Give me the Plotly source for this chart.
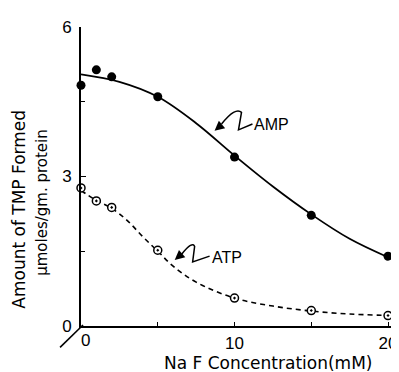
import plotly.graph_objects as go

# ---- data ----
amp_x = [0, 1, 2, 5, 10, 15, 20]
amp_y = [4.83, 5.14, 5.0, 4.6, 3.39, 2.22, 1.40]
atp_x = [0, 1, 2, 5, 10, 15, 20]
atp_y = [2.77, 2.51, 2.38, 1.52, 0.56, 0.31, 0.21]
# hand-drawn fitted curves
amp_fit_x = [0, 2.5, 5, 7.5, 10, 12.5, 15, 17.5, 20, 20.4]
amp_fit_y = [5.05, 4.9, 4.6, 4.07, 3.42, 2.8, 2.24, 1.75, 1.38, 1.33]
atp_fit_x = [0, 1, 2, 3, 4, 5, 6, 7.5, 10, 12.5, 15, 17.5, 20, 20.5]
atp_fit_y = [2.72, 2.52, 2.36, 2.12, 1.8, 1.5, 1.2, 0.88, 0.56, 0.4, 0.3, 0.24, 0.21, 0.2]
y_ticks = [0, 3, 6]
y_ticklabels = ["0", "3", "6"]
x_ticks = [5, 10, 15, 20]
x_ticklabels = ["", "10", "", "20"]

FONT = "Liberation Sans"
TFONT = "DejaVu Sans"
OFF = 8  # page body margin

# layout in reference pixels: plot area x 81..396, y 18..326
L, T, PW, PH = 81 - OFF, 18 - OFF, 315, 308

def X(px):
    return (px - 81) / 15.4

def Y(py):
    return (326 - py) / 51.33

def PX(px):
    return (px - 81) / PW

def PY(py):
    return (326 - py) / PH

fig = go.Figure()
fig.add_trace(go.Scatter(x=amp_fit_x, y=amp_fit_y, mode="lines", line=dict(color="black", width=1.8, shape="spline"), cliponaxis=False, hoverinfo="skip"))
fig.add_trace(go.Scatter(x=atp_fit_x, y=atp_fit_y, mode="lines", line=dict(color="black", width=1.6, shape="spline", dash="5px,4px"), cliponaxis=False, hoverinfo="skip"))
fig.add_trace(go.Scatter(x=amp_x, y=amp_y, mode="markers", marker=dict(symbol="circle", size=9, color="black"), cliponaxis=False))
fig.add_trace(go.Scatter(x=atp_x, y=atp_y, mode="markers", marker=dict(symbol="circle-dot", size=8, color="white", line=dict(color="black", width=1.5)), cliponaxis=False))

shapes = []
# break mark at origin
shapes.append(dict(type="line", xref="paper", yref="paper", x0=PX(60), y0=PY(348), x1=PX(83), y1=PY(325), line=dict(color="black", width=1.6)))
# squiggles
def path(pts):
    s = "M {} {}".format(X(pts[0][0]), Y(pts[0][1]))
    s += " Q {} {} {} {}".format(X(pts[1][0]), Y(pts[1][1]), X(pts[2][0]), Y(pts[2][1]))
    s += " L {} {}".format(X(pts[3][0]), Y(pts[3][1]))
    s += " L {} {}".format(X(pts[4][0]), Y(pts[4][1]))
    return s
shapes.append(dict(type="path", xref="x", yref="y", path=path([(222, 118), (236, 100), (242, 106), (239, 124), (253, 118)]), line=dict(color="black", width=1.5)))
shapes.append(dict(type="path", xref="x", yref="y", path=path([(182, 252), (193, 238), (195, 244), (193, 260), (210, 254)]), line=dict(color="black", width=1.5)))

annotations = [
    dict(x=X(215), y=Y(125), ax=X(223), ay=Y(118), axref="x", ayref="y", xref="x", yref="y", text="", showarrow=True, arrowhead=2, arrowsize=1.3, arrowwidth=1.5, arrowcolor="black"),
    dict(x=X(175), y=Y(258), ax=X(183), ay=Y(251), axref="x", ayref="y", xref="x", yref="y", text="", showarrow=True, arrowhead=2, arrowsize=1.3, arrowwidth=1.5, arrowcolor="black"),
    dict(x=X(253), y=Y(118), xref="x", yref="y", text="AMP", showarrow=False, xanchor="left", yanchor="middle", font=dict(family=FONT, size=16, color="black")),
    dict(x=X(210), y=Y(255), xref="x", yref="y", text="ATP", showarrow=False, xanchor="left", yanchor="middle", font=dict(family=FONT, size=16, color="black")),
    dict(x=PX(86), y=PY(341), xref="paper", yref="paper", text="0", showarrow=False, xanchor="center", yanchor="middle", font=dict(family=FONT, size=17, color="black")),
    dict(x=PX(269), y=PY(364), xref="paper", yref="paper", text="Na F Concentration(mM)", showarrow=False, xanchor="center", yanchor="middle", font=dict(family=TFONT, size=17, color="black")),
    dict(x=PX(18), y=PY(206), xref="paper", yref="paper", text="Amount of TMP Formed", showarrow=False, textangle=-90, xanchor="center", yanchor="middle", font=dict(family=TFONT, size=17, color="black")),
    dict(x=PX(42), y=PY(199), xref="paper", yref="paper", text="μmoles/gm. protein", showarrow=False, textangle=-90, xanchor="center", yanchor="middle", font=dict(family=TFONT, size=15, color="black")),
]

fig.update_layout(
    width=399, height=372,
    margin=dict(l=L, r=399 - L - PW, t=T, b=372 - T - PH),
    paper_bgcolor="white", plot_bgcolor="white",
    showlegend=False,
    shapes=shapes, annotations=annotations,
    font=dict(family=FONT, size=17, color="black"),
    xaxis=dict(range=[0, PW / 15.4], showline=True, linecolor="black", linewidth=1.6, showgrid=False, zeroline=False,
               tickvals=x_ticks, ticktext=x_ticklabels, ticks="inside", ticklen=4, tickcolor="black", tickwidth=1.2,
               ticklabelstandoff=1, tickfont=dict(family=FONT, size=17)),
    yaxis=dict(range=[0, 6], showline=True, linecolor="black", linewidth=1.6, showgrid=False, zeroline=False,
               tickvals=y_ticks, ticktext=y_ticklabels, ticks="inside", ticklen=5, tickcolor="black", tickwidth=1.2,
               ticklabelstandoff=4, tickfont=dict(family=FONT, size=17),
               minor=dict(tickvals=[1.5, 4.5], ticks="inside", ticklen=4, tickcolor="black", showgrid=False)),
)

fig.write_html("out.html")
